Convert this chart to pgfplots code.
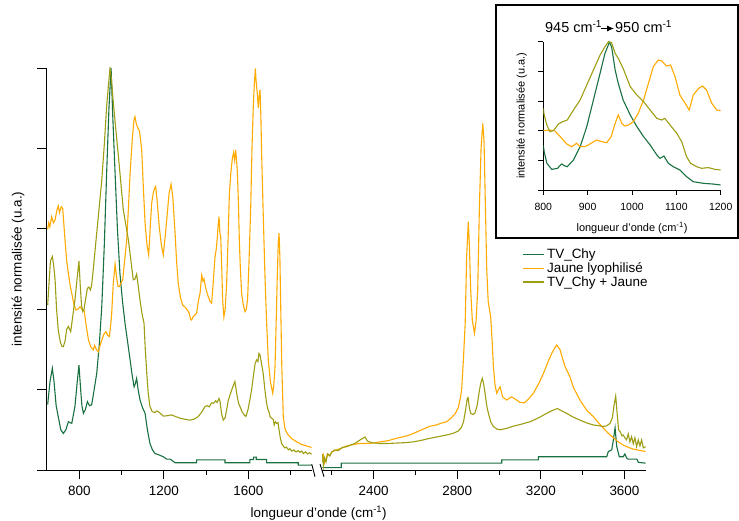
\documentclass[border=0pt]{standalone}
\usepackage{fontspec}
\setmainfont{Liberation Sans}
\usepackage{pgfplots}
\pgfplotsset{compat=1.18}
\usetikzlibrary{arrows.meta}
\definecolor{cchy}{RGB}{25,112,64}
\definecolor{cjaune}{RGB}{255,170,0}
\definecolor{cmix}{RGB}{158,158,20}
\pgfplotsset{
  spec/.style={scale only axis, ymin=0, ymax=1,
    axis line style={line width=0.9bp},
    every tick/.style={black, line width=0.9bp},
    tick align=outside, major tick length=9bp, minor tick length=5bp,
    tick label style={font=\fontsize{13.5}{16}\selectfont},
    label style={font=\fontsize{13.5}{16}\selectfont},
    xticklabel style={yshift=-3.5bp},
    every axis plot/.append style={line width=1.1bp},
  },
}
\begin{document}
\begin{tikzpicture}
\path[use as bounding box] (0,0) rectangle (739bp,521bp);
% left part
\begin{axis}[spec, at={(46bp,51bp)}, anchor=south west, width=266bp, height=402bp,
  xmin=642, xmax=1901, axis x line*=bottom, axis y line*=left,
  xtick={800,1200,1600}, xticklabels={800,1200,1600}, minor xtick={1000,1400,1800},
  ytick={0,0.2,0.4,0.6,0.8,1}, yticklabels={},
  ylabel={intensité normalisée (u.a.)},
  ylabel style={at={(axis description cs:-0.105,0.5)}, anchor=center},
  xlabel={longueur d'onde (cm\textsuperscript{-1})},
  xlabel style={at={(axis description cs:1.025,-0.1077)}, anchor=center}]
\addplot[cchy] table {
650 0.163
661 0.22
672 0.253
680 0.22
690 0.16
700 0.133
712 0.10
724 0.091
736 0.10
748 0.12
764 0.116
779 0.158
790 0.22
798 0.261
806 0.2
812 0.16
819 0.141
828 0.15
838 0.17
848 0.16
858 0.162
870 0.2
882 0.24
894 0.31
906 0.406
918 0.56
929 0.738
940 0.9
950 1.0
958 0.88
969 0.738
980 0.60
992 0.489
1004 0.42
1016 0.365
1028 0.32
1040 0.274
1050 0.235
1059 0.207
1065 0.215
1071 0.228
1078 0.2
1087 0.174
1099 0.155
1111 0.141
1122 0.10
1134 0.066
1146 0.05
1158 0.041
1175 0.038
1197 0.033
1213 0.027
1230 0.027
1253 0.018
1355 0.018
1355 0.025
1489 0.025
1489 0.018
1607 0.018
1607 0.026
1625 0.026
1625 0.032
1637 0.032
1637 0.026
1686 0.026
1686 0.018
1836 0.018
1836 0.012
1899 0.012
};
\addplot[cjaune] table {
650 0.599
655 0.615
660 0.605
669 0.630
677 0.615
685 0.622
693 0.645
700 0.657
706 0.64
714 0.655
721 0.651
732 0.572
740 0.52
748 0.489
756 0.46
764 0.439
775 0.41
784 0.398
793 0.40
803 0.406
812 0.40
822 0.398
832 0.36
843 0.323
855 0.305
866 0.299
872 0.31
880 0.30
890 0.294
898 0.31
906 0.323
916 0.338
926 0.344
934 0.335
942 0.332
948 0.36
953 0.39
960 0.46
969 0.512
976 0.48
983 0.456
989 0.456
997 0.465
1005 0.473
1014 0.52
1024 0.572
1032 0.65
1040 0.738
1050 0.82
1058 0.87
1063 0.879
1070 0.86
1077 0.85
1084 0.844
1090 0.82
1095 0.796
1103 0.70
1111 0.614
1120 0.56
1128 0.535
1135 0.60
1142 0.663
1150 0.69
1156 0.70
1161 0.705
1168 0.67
1178 0.605
1188 0.56
1197 0.535
1206 0.58
1216 0.638
1225 0.69
1234 0.711
1242 0.68
1253 0.589
1260 0.52
1268 0.464
1278 0.43
1289 0.41
1300 0.405
1311 0.398
1320 0.39
1326 0.375
1331 0.373
1337 0.38
1345 0.385
1355 0.39
1363 0.42
1371 0.439
1379 0.485
1385 0.47
1390 0.475
1395 0.46
1402 0.445
1410 0.431
1418 0.42
1426 0.415
1434 0.47
1442 0.531
1448 0.55
1453 0.58
1457 0.61
1461 0.63
1465 0.59
1469 0.58
1474 0.50
1478 0.423
1484 0.381
1490 0.40
1497 0.464
1503 0.56
1510 0.688
1517 0.74
1524 0.775
1530 0.79
1535 0.77
1540 0.796
1544 0.77
1548 0.738
1553 0.66
1557 0.572
1562 0.50
1568 0.439
1576 0.41
1584 0.394
1590 0.40
1596 0.423
1603 0.52
1611 0.655
1617 0.80
1623 0.904
1628 0.96
1633 0.999
1636 0.97
1639 0.954
1643 0.93
1647 0.9
1651 0.93
1655 0.946
1659 0.88
1663 0.779
1670 0.64
1678 0.489
1686 0.37
1694 0.274
1704 0.22
1715 0.191
1720 0.21
1726 0.257
1732 0.38
1737 0.489
1741 0.56
1745 0.589
1749 0.53
1753 0.406
1758 0.26
1765 0.133
1772 0.105
1780 0.094
1789 0.087
1805 0.078
1828 0.07
1850 0.064
1875 0.06
1899 0.056
};
\addplot[cmix] table {
650 0.41
657 0.47
663 0.52
672 0.531
678 0.51
685 0.473
692 0.40
700 0.348
710 0.318
718 0.307
724 0.307
732 0.32
740 0.35
748 0.357
754 0.35
759 0.344
768 0.38
779 0.423
788 0.47
798 0.52
804 0.46
810 0.41
816 0.394
822 0.40
828 0.42
834 0.44
838 0.452
845 0.455
852 0.448
858 0.46
866 0.50
874 0.545
882 0.589
894 0.655
906 0.721
918 0.81
929 0.904
938 0.96
945 1.0
952 0.97
961 0.912
972 0.85
985 0.779
997 0.71
1008 0.647
1020 0.61
1032 0.572
1044 0.52
1055 0.473
1063 0.475
1071 0.487
1078 0.46
1087 0.423
1096 0.39
1106 0.365
1112 0.30
1119 0.24
1126 0.19
1134 0.158
1145 0.145
1158 0.143
1166 0.147
1174 0.145
1185 0.14
1197 0.134
1215 0.135
1237 0.137
1255 0.133
1276 0.129
1300 0.126
1324 0.124
1345 0.127
1363 0.133
1380 0.145
1395 0.158
1405 0.16
1415 0.157
1425 0.167
1434 0.166
1445 0.172
1452 0.168
1461 0.178
1466 0.17
1473 0.14
1481 0.124
1490 0.13
1497 0.15
1505 0.174
1515 0.19
1525 0.205
1536 0.22
1542 0.2
1548 0.18
1554 0.165
1560 0.158
1570 0.145
1580 0.137
1588 0.133
1598 0.15
1607 0.175
1615 0.199
1625 0.24
1632 0.265
1639 0.274
1645 0.27
1650 0.29
1655 0.286
1662 0.265
1670 0.24
1678 0.20
1685 0.17
1691 0.153
1697 0.145
1703 0.132
1710 0.129
1718 0.125
1722 0.112
1728 0.12
1734 0.116
1740 0.118
1745 0.10
1751 0.08
1757 0.066
1765 0.06
1772 0.055
1780 0.057
1790 0.05
1797 0.053
1805 0.047
1815 0.05
1825 0.045
1835 0.048
1844 0.044
1852 0.047
1860 0.041
1870 0.045
1880 0.04
1890 0.043
1899 0.039
};
\end{axis}
% right part
\begin{axis}[spec, at={(322bp,51bp)}, anchor=south west, width=324bp, height=402bp,
  xmin=2153, xmax=3703, axis x line*=bottom, axis y line=none,
  xtick={2400,2800,3200,3600}, xticklabels={2400,2800,3200,3600}, minor xtick={2200,2600,3000,3400},
  legend style={at={(0.6194,0.556)}, anchor=north west, draw=none, fill=none,
    inner sep=0pt, font=\fontsize{13.5}{15}\selectfont, cells={anchor=west}, row sep=-1.5bp},
  legend image code/.code={\draw[#1, line width=1.2bp] (0bp,0bp) -- (21bp,0bp);}]
\addplot[cchy] table {
2155 0.006
2245 0.006
2245 0.017
3013 0.017
3013 0.025
3188 0.025
3188 0.033
3515 0.033
3523 0.046
3539 0.05
3547 0.075
3555 0.105
3563 0.058
3575 0.033
3594 0.033
3602 0.04
3610 0.03
3618 0.027
3660 0.027
3666 0.019
3701 0.017
};
\addlegendentry{TV\_Chy}
\addplot[cjaune] table {
2155 0.02
2160 0.035
2165 0.018
2170 0.025
2180 0.04
2190 0.035
2200 0.045
2223 0.05
2250 0.055
2271 0.06
2300 0.063
2330 0.066
2360 0.066
2400 0.067
2430 0.07
2470 0.073
2510 0.079
2560 0.085
2590 0.091
2630 0.1
2670 0.109
2700 0.112
2720 0.116
2749 0.12
2770 0.129
2790 0.14
2805 0.155
2815 0.18
2821 0.199
2830 0.28
2838 0.365
2845 0.531
2853 0.618
2858 0.56
2864 0.45
2872 0.373
2882 0.34
2890 0.37
2898 0.45
2906 0.655
2914 0.80
2922 0.862
2928 0.82
2935 0.65
2941 0.50
2948 0.42
2952 0.406
2960 0.381
2967 0.32
2973 0.257
2981 0.21
2989 0.191
2997 0.2
3005 0.207
3011 0.195
3017 0.182
3036 0.174
3060 0.182
3084 0.174
3100 0.168
3121 0.167
3140 0.176
3164 0.191
3190 0.215
3212 0.24
3235 0.27
3252 0.29
3268 0.305
3276 0.311
3284 0.305
3292 0.299
3305 0.275
3316 0.257
3339 0.232
3356 0.205
3387 0.174
3420 0.148
3451 0.133
3480 0.115
3499 0.104
3525 0.09
3547 0.08
3570 0.07
3594 0.062
3620 0.056
3642 0.052
3670 0.049
3701 0.046
};
\addlegendentry{Jaune lyophilisé}
\addplot[cmix] table {
2155 0.04
2160 0.01
2165 0.03
2172 0.02
2180 0.04
2190 0.035
2200 0.045
2215 0.05
2230 0.048
2250 0.056
2271 0.058
2290 0.062
2310 0.066
2327 0.072
2345 0.078
2359 0.082
2370 0.072
2390 0.068
2430 0.066
2470 0.066
2510 0.067
2550 0.068
2590 0.07
2630 0.074
2670 0.079
2710 0.083
2749 0.087
2780 0.091
2805 0.097
2820 0.106
2830 0.12
2840 0.15
2848 0.178
2852 0.18
2858 0.155
2864 0.141
2875 0.138
2885 0.142
2895 0.16
2904 0.191
2912 0.215
2920 0.228
2926 0.215
2933 0.191
2941 0.16
2949 0.141
2960 0.12
2973 0.108
2990 0.102
3005 0.1
3040 0.104
3068 0.109
3100 0.113
3148 0.12
3190 0.13
3228 0.141
3255 0.148
3279 0.153
3300 0.147
3323 0.141
3350 0.133
3387 0.124
3420 0.117
3451 0.112
3480 0.11
3499 0.108
3515 0.11
3531 0.116
3542 0.13
3550 0.16
3558 0.184
3562 0.16
3566 0.133
3572 0.1
3580 0.095
3588 0.085
3594 0.087
3602 0.08
3610 0.075
3618 0.09
3626 0.07
3634 0.083
3642 0.065
3650 0.08
3658 0.058
3666 0.075
3674 0.06
3682 0.075
3690 0.055
3701 0.058
};
\addlegendentry{TV\_Chy + Jaune}
\end{axis}
% axis break marks
\draw[line width=0.9bp] (311.7bp,57bp) -- (315bp,44.3bp);
\draw[line width=0.9bp] (320bp,57bp) -- (324bp,44.3bp);
% inset frame
\draw[line width=1.2bp, fill=white] (496bp,283bp) rectangle (738bp,516bp);
\begin{axis}[at={(543.3bp,331bp)}, anchor=south west, scale only axis,
  width=177.4bp, height=148.3bp, xmin=800, xmax=1200, ymin=0, ymax=1,
  axis x line*=bottom, axis y line*=left,
  axis line style={line width=0.9bp},
  every tick/.style={black, line width=0.9bp},
  tick align=outside, major tick length=5bp,
  xtick={800,900,1000,1100,1200}, xticklabels={800,900,1000,1100,1200},
  ytick={0,0.2,0.4,0.6,0.8,1}, yticklabels={},
  tick label style={font=\fontsize{10.5}{12}\selectfont},
  xticklabel style={yshift=-4.5bp},
  label style={font=\fontsize{11}{13}\selectfont},
  xlabel={longueur d'onde (cm\textsuperscript{-1})},
  xlabel style={at={(axis description cs:0.5,-0.256)}, anchor=center},
  ylabel={intensité normalisée (u.a.)},
  ylabel style={at={(axis description cs:-0.1218,0.5)}, anchor=center},
  every axis plot/.append style={line width=1.1bp}]
\addplot[cchy] table {
800 0.30
802 0.258
808 0.18
819 0.139
832 0.146
841 0.175
849 0.162
854 0.157
868 0.202
883 0.292
898 0.427
913 0.607
928 0.787
939 0.921
949 0.996
954 0.966
962 0.809
969 0.719
980 0.607
996 0.506
1011 0.427
1026 0.36
1041 0.303
1056 0.236
1063 0.213
1072 0.229
1082 0.18
1093 0.157
1108 0.135
1123 0.09
1138 0.056
1161 0.045
1183 0.04
1200 0.034
};
\addplot[cjaune] table {
800 0.40
815 0.404
826 0.398
838 0.36
853 0.31
864 0.292
875 0.315
883 0.292
894 0.292
905 0.31
920 0.337
932 0.326
943 0.319
953 0.36
962 0.449
969 0.506
977 0.449
984 0.431
992 0.438
1003 0.461
1014 0.517
1026 0.607
1037 0.719
1048 0.831
1059 0.876
1067 0.87
1078 0.836
1087 0.843
1097 0.764
1108 0.64
1120 0.584
1129 0.539
1138 0.64
1150 0.685
1159 0.701
1168 0.674
1180 0.584
1191 0.539
1200 0.535
};
\addplot[cmix] table {
800 0.55
802 0.506
808 0.438
815 0.393
824 0.404
834 0.445
844 0.461
854 0.472
868 0.539
883 0.607
898 0.708
913 0.809
928 0.91
939 0.966
947 1.0
954 0.993
962 0.921
969 0.888
980 0.82
996 0.697
1011 0.64
1026 0.596
1041 0.539
1056 0.483
1067 0.472
1074 0.483
1086 0.438
1101 0.382
1112 0.326
1123 0.225
1132 0.18
1146 0.157
1157 0.146
1172 0.151
1187 0.139
1200 0.135
};
\end{axis}
% inset title
\node[anchor=base west, inner sep=0pt, font=\fontsize{14.5}{16}\selectfont] at (545bp,488bp) {945 cm\textsuperscript{-1}};
\draw[line width=0.9bp, -{Latex[length=7bp,width=6bp]}] (601bp,492.5bp) -- (614bp,492.5bp);
\node[anchor=base west, inner sep=0pt, font=\fontsize{14.5}{16}\selectfont] at (615bp,488bp) {950 cm\textsuperscript{-1}};
\end{tikzpicture}
\end{document}
